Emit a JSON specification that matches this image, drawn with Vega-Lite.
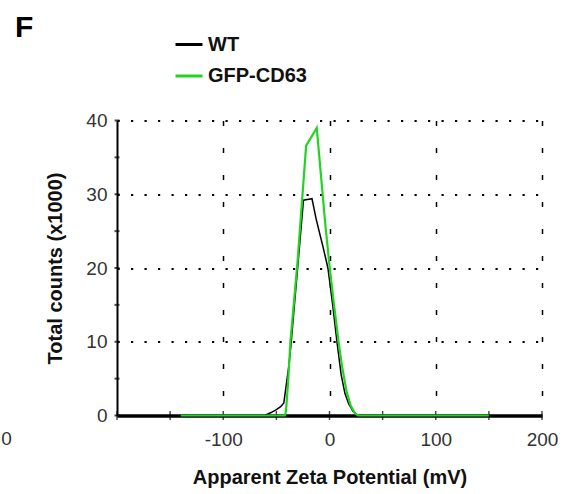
{
  "$schema": "https://vega.github.io/schema/vega-lite/v6.json",
  "width": 425,
  "height": 295,
  "autosize": {"type": "none"},
  "padding": {"left": 117, "top": 120.5, "right": 24, "bottom": 78.5},
  "background": "white",
  "config": {
    "view": {"stroke": null},
    "font": "Liberation Sans"
  },
  "title": {
    "text": "F",
    "anchor": "start",
    "frame": "group",
    "orient": "top",
    "fontSize": 30,
    "fontWeight": "bold",
    "font": "Liberation Sans",
    "color": "black",
    "dx": -102,
    "offset": -13
  },
  "datasets": {
    "curves": [
      {"series": "WT", "x": -140, "y": 0},
      {"series": "WT", "x": -61, "y": 0},
      {"series": "WT", "x": -55, "y": 0.4},
      {"series": "WT", "x": -50, "y": 0.8},
      {"series": "WT", "x": -46, "y": 1.2},
      {"series": "WT", "x": -43, "y": 1.7},
      {"series": "WT", "x": -38, "y": 7},
      {"series": "WT", "x": -36, "y": 10},
      {"series": "WT", "x": -30, "y": 20},
      {"series": "WT", "x": -24.5, "y": 29.2},
      {"series": "WT", "x": -21, "y": 29.3},
      {"series": "WT", "x": -16.5, "y": 29.4},
      {"series": "WT", "x": -12.5, "y": 26.6},
      {"series": "WT", "x": -6, "y": 22.8},
      {"series": "WT", "x": -1.5, "y": 20},
      {"series": "WT", "x": 3, "y": 15},
      {"series": "WT", "x": 7, "y": 10},
      {"series": "WT", "x": 11, "y": 5.5},
      {"series": "WT", "x": 14.5, "y": 3},
      {"series": "WT", "x": 18, "y": 1.6},
      {"series": "WT", "x": 22, "y": 0.6},
      {"series": "WT", "x": 26, "y": 0},
      {"series": "WT", "x": 150, "y": 0},
      {"series": "GFP-CD63", "x": -140, "y": 0},
      {"series": "GFP-CD63", "x": -42, "y": 0},
      {"series": "GFP-CD63", "x": -41, "y": 0.5},
      {"series": "GFP-CD63", "x": -39, "y": 4.5},
      {"series": "GFP-CD63", "x": -36.8, "y": 10},
      {"series": "GFP-CD63", "x": -30, "y": 21},
      {"series": "GFP-CD63", "x": -22, "y": 36.6},
      {"series": "GFP-CD63", "x": -12, "y": 39},
      {"series": "GFP-CD63", "x": -8, "y": 32.5},
      {"series": "GFP-CD63", "x": -4, "y": 26},
      {"series": "GFP-CD63", "x": 0, "y": 20.3},
      {"series": "GFP-CD63", "x": 4, "y": 15.3},
      {"series": "GFP-CD63", "x": 8.5, "y": 10},
      {"series": "GFP-CD63", "x": 12, "y": 6.5},
      {"series": "GFP-CD63", "x": 16, "y": 3.3},
      {"series": "GFP-CD63", "x": 20, "y": 1.3},
      {"series": "GFP-CD63", "x": 24, "y": 0.3},
      {"series": "GFP-CD63", "x": 27, "y": 0},
      {"series": "GFP-CD63", "x": 150, "y": 0}
    ],
    "xticks": [
      {"v": -200}, {"v": -150}, {"v": -100}, {"v": -50}, {"v": 0},
      {"v": 50}, {"v": 100}, {"v": 150}, {"v": 200}
    ],
    "yticks": [
      {"v": 0}, {"v": 5}, {"v": 10}, {"v": 15}, {"v": 20},
      {"v": 25}, {"v": 30}, {"v": 35}, {"v": 40}
    ],
    "stray": [{"v": -304, "label": "0"}]
  },
  "layer": [
    {
      "data": {"name": "xticks"},
      "mark": {"type": "tick", "orient": "vertical", "size": 9, "thickness": 1.5, "color": "black"},
      "encoding": {
        "x": {"field": "v", "type": "quantitative", "scale": {"domain": [-200, 200], "nice": false, "zero": false},
          "axis": {
            "values": [-100, 0, 100, 200],
            "labelExpr": "datum.value + ''",
            "title": "Apparent Zeta Potential (mV)",
            "titleFont": "Liberation Sans",
            "titleFontSize": 20,
            "titleFontWeight": "bold",
            "titleColor": "#111111",
            "titlePadding": 18,
            "labelFont": "Liberation Sans",
            "labelFontSize": 19,
            "labelColor": "#333333",
            "labelPadding": 15,
            "labelFlush": false,
            "ticks": false,
            "tickSize": 0,
            "domainColor": "black",
            "domainWidth": 3.5,
            "grid": true,
            "gridColor": "black",
            "gridWidth": 1.5,
            "gridDash": [5, 22]
          }
        },
        "y": {"datum": 0, "type": "quantitative", "scale": {"domain": [0, 40], "nice": false},
          "axis": {
            "values": [0, 10, 20, 30, 40],
            "title": "Total counts (x1000)",
            "titleFont": "Liberation Sans",
            "titleFontSize": 20,
            "titleFontWeight": "bold",
            "titleColor": "#111111",
            "titlePadding": 20,
            "labelFont": "Liberation Sans",
            "labelFontSize": 19,
            "labelColor": "#333333",
            "labelPadding": 10,
            "ticks": false,
            "tickSize": 0,
            "domainColor": "black",
            "domainWidth": 2,
            "grid": true,
            "gridColor": "black",
            "gridWidth": 2.2,
            "gridDash": [2.2, 11.3],
            "gridOpacity": {"condition": {"test": "datum.value === 0", "value": 0}, "value": 1}
          }
        }
      }
    },
    {
      "data": {"name": "yticks"},
      "mark": {"type": "tick", "orient": "horizontal", "size": 5, "thickness": 2, "color": "black"},
      "encoding": {
        "x": {"datum": -200, "type": "quantitative"},
        "y": {"field": "v", "type": "quantitative"}
      }
    },
    {
      "data": {"name": "curves"},
      "transform": [{"filter": "datum.series === 'WT'"}],
      "mark": {"type": "line", "strokeWidth": 1.5, "clip": false},
      "encoding": {
        "x": {"field": "x", "type": "quantitative"},
        "y": {"field": "y", "type": "quantitative"},
        "color": {
          "datum": "WT",
          "type": "nominal",
          "scale": {"domain": ["WT", "GFP-CD63"], "range": ["#000000", "#22d422"]},
          "legend": {
            "orient": "none",
            "legendX": 57,
            "legendY": -91,
            "title": null,
            "padding": 0,
            "symbolType": "stroke",
            "symbolSize": 729,
            "symbolStrokeWidth": 3,
            "labelFont": "Liberation Sans",
            "labelFontSize": 20,
            "labelFontWeight": "bold",
            "labelColor": "#111111",
            "labelOffset": 4,
            "rowPadding": 6.5
          }
        }
      }
    },
    {
      "data": {"name": "curves"},
      "transform": [{"filter": "datum.series === 'GFP-CD63'"}],
      "mark": {"type": "line", "strokeWidth": 2.2, "clip": false},
      "encoding": {
        "x": {"field": "x", "type": "quantitative"},
        "y": {"field": "y", "type": "quantitative"},
        "color": {"datum": "GFP-CD63", "type": "nominal"}
      }
    },
    {
      "data": {"name": "stray"},
      "mark": {"type": "text", "fontSize": 19, "font": "Liberation Sans", "color": "#333333", "dy": 23, "align": "center", "baseline": "middle"},
      "encoding": {
        "x": {"field": "v", "type": "quantitative"},
        "y": {"datum": 0, "type": "quantitative"},
        "text": {"field": "label"}
      }
    }
  ]
}
